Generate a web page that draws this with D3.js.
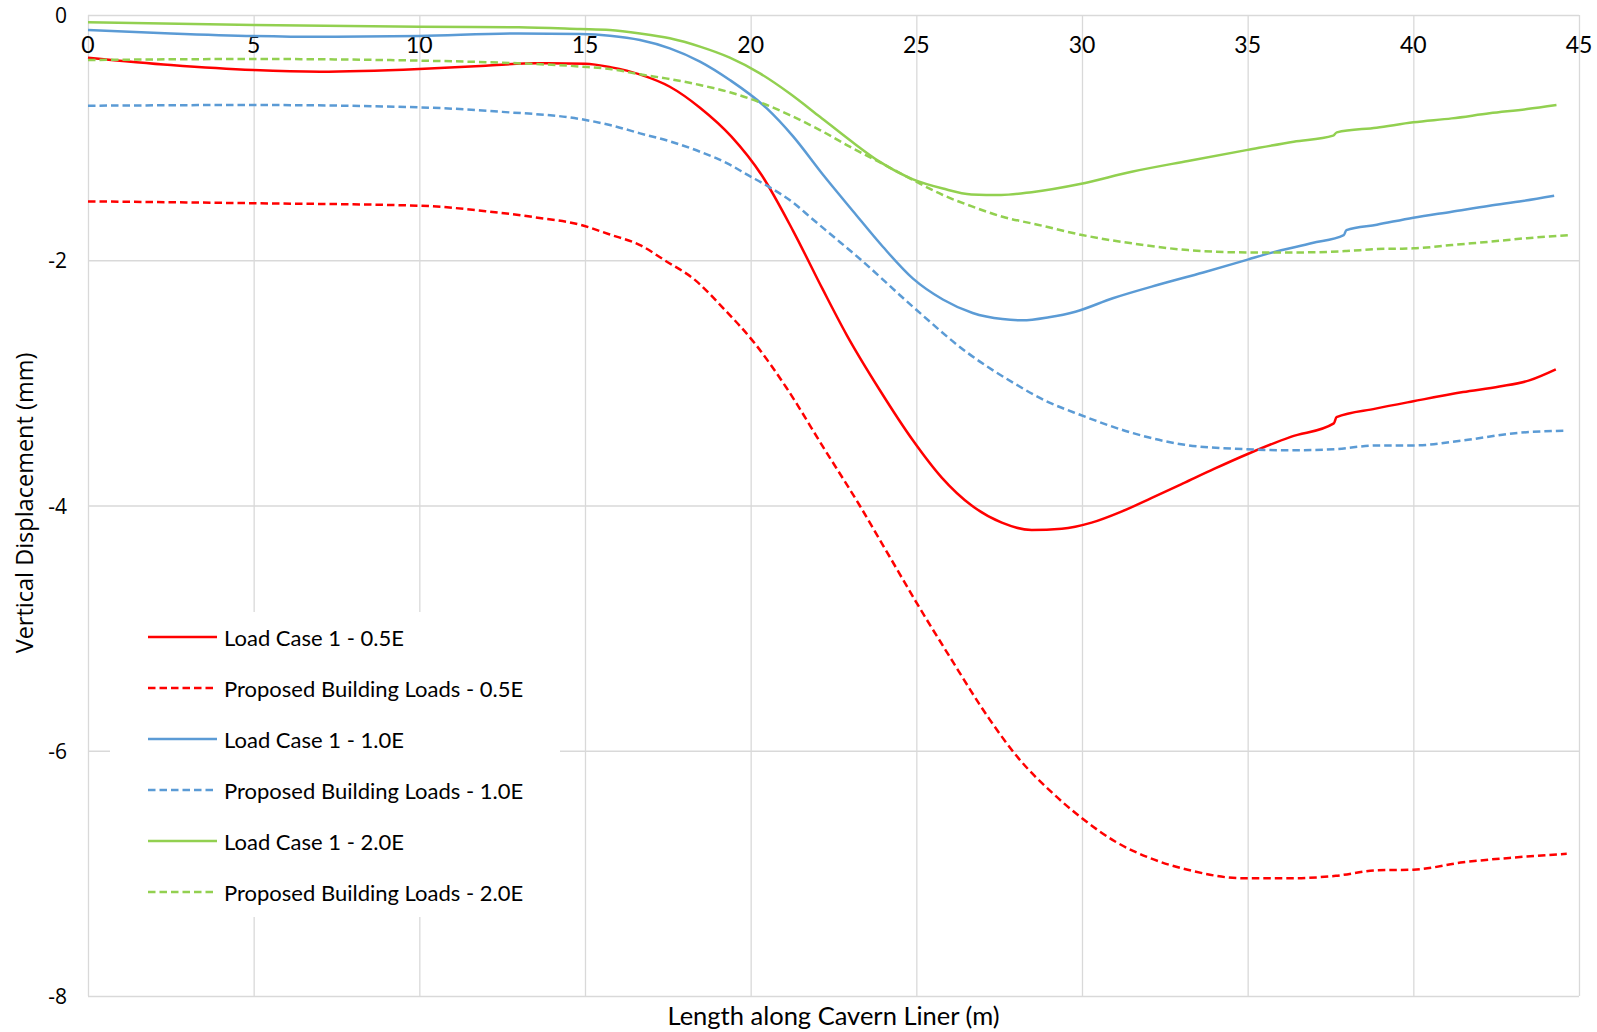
<!DOCTYPE html>
<html><head><meta charset="utf-8">
<script src="https://cdn.jsdelivr.net/npm/d3@7"></script>
<style>body{margin:0;background:#fff}svg{display:block}</style>
</head><body><svg id="c" width="1597" height="1032"></svg>
<script>
// ---- data ----
const xTicks = [0,5,10,15,20,25,30,35,40,45];
const yTicks = [0,-2,-4,-6,-8];
const xTitle = "Length along Cavern Liner (m)";
const yTitle = "Vertical Displacement (mm)";
const seriesNames = ["Load Case 1 - 0.5E","Proposed Building Loads - 0.5E","Load Case 1 - 1.0E","Proposed Building Loads - 1.0E","Load Case 1 - 2.0E","Proposed Building Loads - 2.0E"];

const lc05X = [0,2.5,5,7,10,12,13.5,15,15.8,16.65,17.56,18.47,19.42,20.33,21.28,22.18,22.9,23.9,24.9,25.76,26.67,27.58,28.48,29.39,30.29,31.19,32.09,33.05,34.0,35.0,36.3,37.6,37.68,38.86,40.0,41.5,42.6,43.5,44.3];
const lc05Y = [-0.348,-0.408,-0.449,-0.462,-0.44,-0.413,-0.394,-0.397,-0.427,-0.484,-0.585,-0.756,-0.992,-1.305,-1.76,-2.24,-2.61,-3.06,-3.47,-3.77,-4.0,-4.14,-4.20,-4.19,-4.14,-4.05,-3.94,-3.82,-3.70,-3.58,-3.44,-3.33,-3.28,-3.21,-3.15,-3.075,-3.03,-2.98,-2.89];

const pb05X = [0,5,10,12,13.5,14.85,15.75,16.66,17.46,18.27,19.17,20.13,21.08,22.18,23.29,24.2,25.0,26.0,27.2,28.08,29.09,30.0,31.0,32.0,33.19,34.85,36.3,37.66,38.9,40.0,41.5,43.07,44.63];
const pb05Y = [-1.52,-1.535,-1.555,-1.60,-1.65,-1.71,-1.79,-1.876,-2.01,-2.15,-2.39,-2.68,-3.04,-3.52,-4.0,-4.42,-4.79,-5.23,-5.74,-6.06,-6.34,-6.55,-6.74,-6.87,-6.97,-7.04,-7.04,-7.02,-6.975,-6.97,-6.91,-6.87,-6.84];

const lc10X = [0,2.5,5,7,10,13,14.85,15.75,16.66,17.56,18.47,19.37,20.48,21.28,22.19,23.09,23.99,24.9,25.8,26.7,27.6,28.2,29.0,29.8,30.93,32.3,33.66,35.0,35.7,36.95,37.9,37.98,38.9,40.0,41.16,42.3,43.3,44.25];
const lc10Y = [-0.122,-0.15,-0.171,-0.178,-0.171,-0.15,-0.155,-0.169,-0.204,-0.272,-0.38,-0.53,-0.76,-0.99,-1.305,-1.60,-1.89,-2.15,-2.32,-2.43,-2.48,-2.49,-2.465,-2.42,-2.31,-2.20,-2.10,-1.995,-1.94,-1.86,-1.795,-1.754,-1.71,-1.653,-1.604,-1.555,-1.517,-1.474];

const pb10X = [0,5,10,12.5,14.85,15.75,16.66,17.56,18.47,19.37,19.88,20.48,21.28,21.89,22.6,23.3,24.9,26.52,27.93,28.93,29.94,31.54,33.1,34.85,36.3,37.66,38.9,40.0,41.5,43.07,44.63];
const pb10Y = [-0.74,-0.734,-0.753,-0.79,-0.848,-0.897,-0.965,-1.03,-1.115,-1.22,-1.30,-1.39,-1.53,-1.67,-1.83,-1.99,-2.38,-2.75,-3.0,-3.15,-3.26,-3.41,-3.505,-3.54,-3.55,-3.54,-3.51,-3.51,-3.47,-3.41,-3.39];

const lc20X = [0,5,10,13,14.85,15.75,16.66,17.56,18.47,19.37,20.28,21.18,22.09,22.99,23.89,24.9,25.8,26.66,27.56,28.48,29.94,31.5,33.2,35.0,36.39,37.58,37.69,38.89,40.0,41.16,42.3,43.43,44.32];
const lc20Y = [-0.06,-0.082,-0.095,-0.10,-0.114,-0.122,-0.15,-0.19,-0.258,-0.348,-0.476,-0.64,-0.83,-1.02,-1.196,-1.34,-1.415,-1.463,-1.468,-1.445,-1.378,-1.278,-1.19,-1.10,-1.033,-0.984,-0.957,-0.919,-0.875,-0.843,-0.802,-0.767,-0.734];

const pb20X = [0,5,10,12.5,14.85,15.75,16.66,17.56,18.47,19.37,20.28,21.18,22.09,22.99,23.89,24.9,25.8,26.7,27.6,28.66,30.0,31.5,33.2,35.0,36.6,37.98,38.89,40.0,41.16,42.3,43.43,44.77];
const pb20Y = [-0.367,-0.359,-0.372,-0.389,-0.42,-0.44,-0.484,-0.522,-0.571,-0.63,-0.712,-0.816,-0.938,-1.074,-1.20,-1.346,-1.468,-1.563,-1.645,-1.71,-1.794,-1.862,-1.917,-1.936,-1.936,-1.925,-1.909,-1.903,-1.876,-1.849,-1.82,-1.794];

// ---- layout ----
const svg = d3.select("#c");
const L = 88, T = 15, R = 1579, B = 996;
const x = d3.scaleLinear().domain([0,45]).range([L,R]);
const y = d3.scaleLinear().domain([0,-8]).range([T,B]);
const gridColor = "#d9d9d9";
const tickFont = "Lato, 'Open Sans', sans-serif";
const yFont = "'Open Sans', 'Noto Sans', sans-serif";

const series = [
  {name: seriesNames[0], xs: lc05X, ys: lc05Y, color: "#ff0000", dash: null},
  {name: seriesNames[1], xs: pb05X, ys: pb05Y, color: "#ff0000", dash: "7.5,4"},
  {name: seriesNames[2], xs: lc10X, ys: lc10Y, color: "#5b9bd5", dash: null},
  {name: seriesNames[3], xs: pb10X, ys: pb10Y, color: "#5b9bd5", dash: "7.5,4"},
  {name: seriesNames[4], xs: lc20X, ys: lc20Y, color: "#92d050", dash: null},
  {name: seriesNames[5], xs: pb20X, ys: pb20Y, color: "#92d050", dash: "7.5,4"}
];

// gridlines via axes
svg.append("g").attr("transform", `translate(0,${B})`)
  .call(d3.axisTop(x).tickValues(xTicks).tickSize(B - T).tickFormat(""))
  .call(g => g.select(".domain").remove())
  .call(g => g.selectAll("line").attr("stroke", gridColor).attr("stroke-width", 1.3));
svg.append("g").attr("transform", `translate(${R},0)`)
  .call(d3.axisLeft(y).tickValues(yTicks).tickSize(R - L).tickFormat(""))
  .call(g => g.select(".domain").remove())
  .call(g => g.selectAll("line").attr("stroke", gridColor).attr("stroke-width", 1.3));

// x tick labels (below the top zero line)
svg.append("g").selectAll("text").data(xTicks).join("text")
  .attr("x", d => x(d)).attr("y", 53)
  .attr("text-anchor", "middle")
  .attr("font-family", tickFont).attr("font-size", 23).attr("fill", "#000")
  .text(d => d);

// y tick labels
svg.append("g").selectAll("text").data(yTicks).join("text")
  .attr("x", 67).attr("y", d => y(d))
  .attr("text-anchor", "end").attr("dominant-baseline", "central")
  .attr("font-family", yFont).attr("font-size", 21).attr("fill", "#000")
  .text(d => d);

// legend background box
const lg = svg.append("g");
lg.append("rect").attr("x", 110).attr("y", 612).attr("width", 450).attr("height", 305).attr("fill", "#fff");

// series lines
const line = d3.line().x(d => x(d[0])).y(d => y(d[1])).curve(d3.curveMonotoneX);
svg.append("g").selectAll("path").data(series).join("path")
  .attr("d", s => line(s.xs.map((v,i) => [v, s.ys[i]])))
  .attr("fill", "none").attr("stroke", s => s.color).attr("stroke-width", 2.5)
  .attr("stroke-dasharray", s => s.dash)
  .attr("stroke-linejoin", "round");

// legend entries
const rows = lg.selectAll("g.row").data(series).join("g").attr("class","row")
  .attr("transform", (d,i) => `translate(0,${637 + i*51})`);
rows.append("line").attr("x1", 148).attr("x2", 217).attr("y1", 0).attr("y2", 0)
  .attr("stroke", d => d.color).attr("stroke-width", 2.5).attr("stroke-dasharray", d => d.dash);
rows.append("text").attr("x", 224).attr("y", 0).attr("dominant-baseline", "central")
  .attr("font-family", tickFont).attr("font-size", 22).attr("fill", "#000")
  .text(d => d.name);

// axis titles
svg.append("text").attr("x", (L+R)/2).attr("y", 1025).attr("text-anchor", "middle")
  .attr("font-family", tickFont).attr("font-size", 25.5).attr("fill", "#000").text(xTitle);
svg.append("text").attr("transform", "translate(24,503) rotate(-90)")
  .attr("text-anchor", "middle").attr("dominant-baseline", "central")
  .attr("font-family", yFont).attr("font-size", 23.5).attr("fill", "#000").text(yTitle);
</script>
</body></html>
